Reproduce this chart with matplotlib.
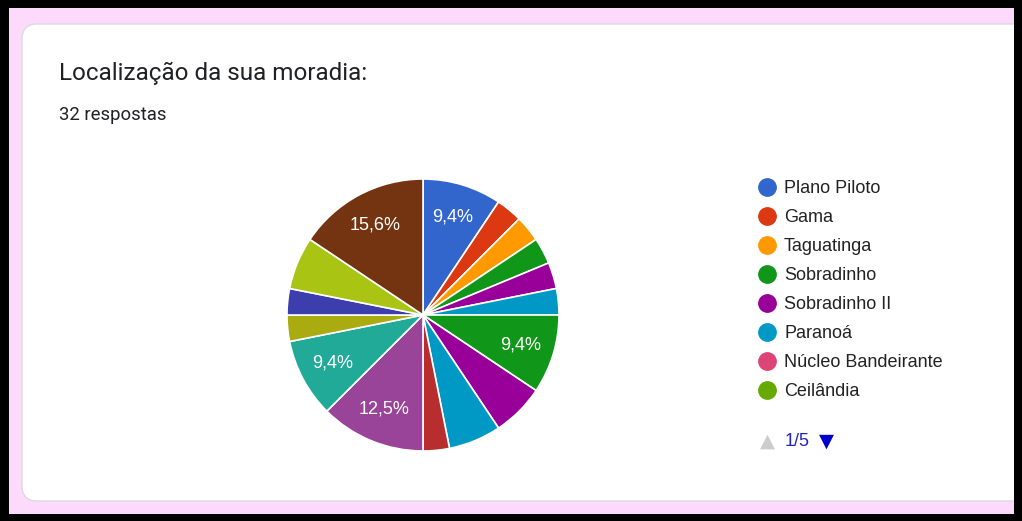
import matplotlib
matplotlib.use("Agg")
import matplotlib.pyplot as plt
from matplotlib.patches import Rectangle, FancyBboxPatch
from matplotlib.lines import Line2D

W, H = 1022, 521

# responses per location, in slice order (clockwise from 12 o'clock)
slice_counts = [3, 1, 1, 1, 1, 1, 3, 2, 2, 1, 4, 3, 1, 1, 2, 5]
slice_colors = ["#3366cc", "#dc3912", "#ff9900", "#109618", "#990099", "#0099c6",
                "#109618", "#990099", "#0099c6", "#b82e2e", "#994499", "#22aa99",
                "#aaaa11", "#3b3eac", "#a9c413", "#743411"]

# first legend page (1/5)
legend_names = ["Plano Piloto", "Gama", "Taguatinga", "Sobradinho",
                "Sobradinho II", "Paranoá", "Núcleo Bandeirante", "Ceilândia"]
legend_colors = ["#3366cc", "#dc3912", "#ff9900", "#109618",
                 "#990099", "#0099c6", "#dd4477", "#66aa00"]

title = "Localização da sua moradia:"
subtitle = "32 respostas"
page_label = "1/5"


def fx(px):
    return px / W


def fy(py):
    return 1 - py / H


fig = plt.figure(figsize=(W / 100, H / 100), dpi=100, facecolor="black")

# pink page band and white card
fig.patches.append(Rectangle((fx(9), fy(514)), fx(1014 - 9), (514 - 8) / H,
                             transform=fig.transFigure, facecolor="#fdd9fb",
                             edgecolor="none", zorder=0))
fig.patches.append(FancyBboxPatch((fx(22), fy(501)), fx(1040 - 22), (501 - 24) / H,
                                  boxstyle="round,pad=0,rounding_size=0.015",
                                  mutation_aspect=W / H,
                                  transform=fig.transFigure, facecolor="white",
                                  edgecolor="#dadce0", lw=1, zorder=1))
# right black edge over the card
fig.patches.append(Rectangle((fx(1014), 0), fx(W - 1014), 1,
                             transform=fig.transFigure, facecolor="black",
                             edgecolor="none", zorder=2))

fig.text(fx(59), fy(73), title, fontsize=17.5, family="Roboto",
         color="#202124", va="center", ha="left")
fig.text(fx(59), fy(115), subtitle, fontsize=13.3, family="Roboto",
         color="#202124", va="center", ha="left")

# pie: centre (423, 315) px, radius 136 px
r = 136
cx, cy = 423, 315
box = 2.5 * r
ax = fig.add_axes([fx(cx - box / 2), fy(cy + box / 2), box / W, box / H])
ax.set_zorder(3)


def pct_label(p):
    if p < 9:
        return ""
    return f"{p:.1f}%".replace(".", ",")


wedges, texts, autotexts = ax.pie(
    slice_counts, colors=slice_colors, startangle=90, counterclock=False,
    autopct=pct_label, pctdistance=0.75,
    wedgeprops=dict(edgecolor="white", linewidth=1.2),
    textprops=dict(color="white", fontsize=13, family="Liberation Sans"),
)
ax.set_xlim(-1.25, 1.25)
ax.set_ylim(-1.25, 1.25)
ax.set_aspect("equal")
ax.axis("off")

handles = [Line2D([], [], marker="o", ls="none", markersize=12.5,
                  markerfacecolor=c, markeredgecolor=c) for c in legend_colors]
leg = fig.legend(handles, legend_names, loc="upper left",
                 bbox_to_anchor=(fx(758), fy(180)), frameon=False,
                 prop=dict(family="Liberation Sans", size=13),
                 labelcolor="#222222", handlelength=1.0, handletextpad=0.44,
                 labelspacing=0.665, borderpad=0, borderaxespad=0)
leg.set_zorder(4)

# legend pager
fig.text(fx(767), fy(441), "▲", fontsize=14, color="#cccccc",
         ha="center", va="center", zorder=4)
fig.text(fx(785), fy(442), page_label, fontsize=13, color="#2222cc",
         family="Liberation Sans", ha="left", va="center", zorder=4)
fig.text(fx(826), fy(441), "▼", fontsize=14, color="#0000cc",
         ha="center", va="center", zorder=4)

fig.savefig("out.png", dpi=100, facecolor="black")
